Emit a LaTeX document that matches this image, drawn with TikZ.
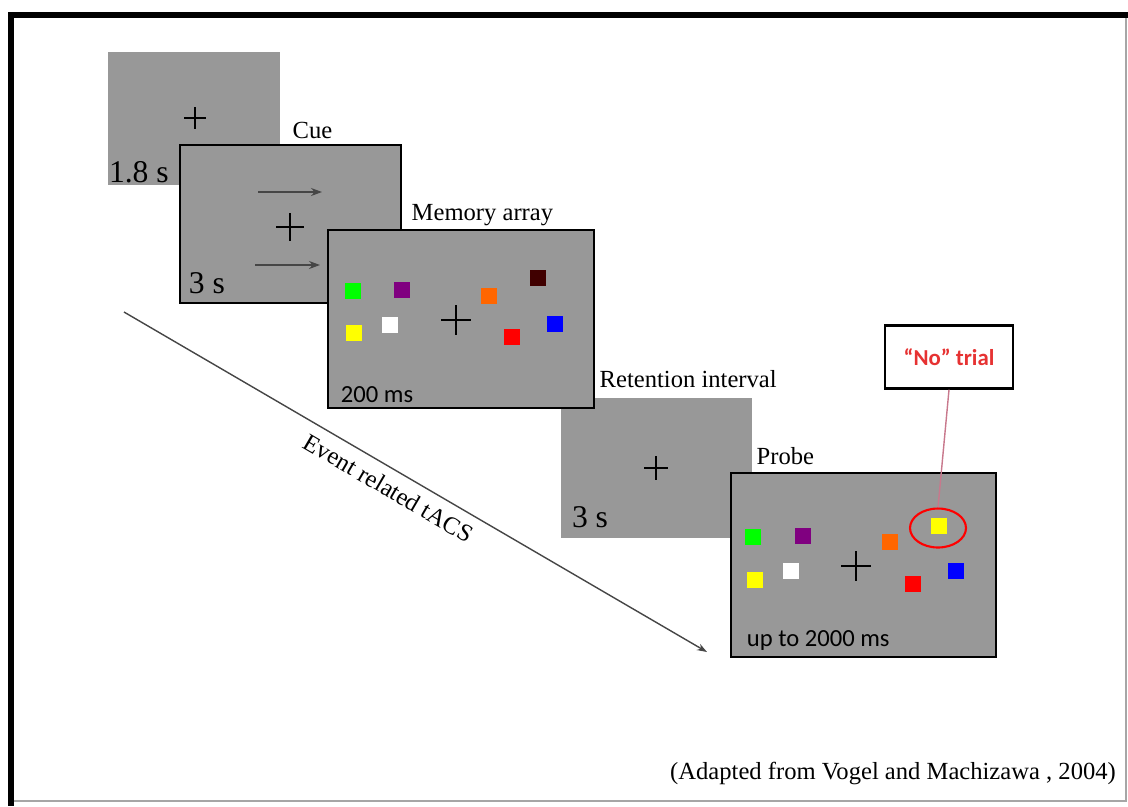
\documentclass[tikz,border=0pt]{standalone}
\usepackage{fontspec}
\setmainfont{Liberation Serif}
\newfontfamily\calibri{Carlito}
\usetikzlibrary{positioning,arrows.meta,calc,shapes.geometric}
\definecolor{ScreenGray}{RGB}{152,152,152}
\definecolor{ItemGreen}{RGB}{0,255,0}
\definecolor{ItemPurple}{RGB}{128,0,128}
\definecolor{ItemYellow}{RGB}{255,255,0}
\definecolor{ItemOrange}{RGB}{255,102,0}
\definecolor{ItemBrown}{RGB}{64,0,0}
\definecolor{ItemRed}{RGB}{255,0,0}
\definecolor{ItemBlue}{RGB}{0,0,255}
\definecolor{NoRed}{RGB}{230,50,50}
\definecolor{PinkLine}{RGB}{200,120,140}
\definecolor{LineGray}{RGB}{70,70,70}
\tikzset{
  screen/.style={fill=ScreenGray,inner sep=0pt},
  framedscreen/.style={screen,draw=black,line width=1.6pt},
  item/.style={fill=#1,inner sep=0pt,minimum size=0.32cm},
  stagelbl/.style={anchor=base west,inner sep=0pt,font=\fontsize{14}{16}\selectfont},
  durlbl/.style={anchor=base west,inner sep=0pt,font=\fontsize{18}{20}\selectfont},
  mslbl/.style={anchor=base west,inner sep=0pt,font=\calibri\fontsize{14}{16}\selectfont},
  cuearrow/.style={-{Stealth[length=2.2mm,width=1.6mm]},semithick,draw=LineGray},
  timeline/.style={-{Stealth[length=2mm,width=1.4mm]},thick,draw=LineGray},
  pics/fixcross/.style={code={\draw[line width=1.5pt] (-#1,0) -- (#1,0) (0,-#1) -- (0,#1);}}
}

\begin{document}
\begin{tikzpicture}[x=0.02cm,y=-0.02cm]
  \useasboundingbox (0,0) rectangle (1128,806);
  % frame
  \draw[gray!70,line width=0.8pt] (11,15) rectangle (1126,801);
  \draw[line width=3.4pt] (8,15) -- (1128,15);
  \draw[line width=3.4pt] (11,12) -- (11,806);

  % screens
  \node[screen,minimum width=3.44cm,minimum height=2.66cm] (fix) at (194,118.5) {};
  \node[framedscreen,minimum width=4.42cm,minimum height=3.16cm] (cue) at (290.5,224) {};
  \node[screen,minimum width=3.82cm,minimum height=2.80cm] (retention) at (656.5,468) {};
  \node[framedscreen,minimum width=5.32cm,minimum height=3.56cm] (memory) at (461,319) {};
  \node[framedscreen,minimum width=5.30cm,minimum height=3.68cm] (probe) at (863.5,565) {};

  % fixation crosses and cue arrows
  \pic at (195,118) {fixcross=11};
  \pic at (290,227) {fixcross=14};
  \pic at (456,320) {fixcross=15};
  \pic at (656,468) {fixcross=12};
  \pic at (856,566) {fixcross=15};
  \draw[cuearrow] (258,192) -- ++(64,0);
  \draw[cuearrow] (255,265) -- ++(65,0);

  % memory array items
  \node[item=ItemGreen] (mgreen) at (353,291) {};
  \node[item=ItemPurple] (mpurple) at (402,290) {};
  \node[item=ItemYellow] (myellow) at (354,333) {};
  \node[item=white] (mwhite) at (390,325) {};
  \node[item=ItemOrange] (morange) at (489,296) {};
  \node[item=ItemBrown] (mbrown) at (538,278) {};
  \node[item=ItemRed] (mred) at (512,337) {};
  \node[item=ItemBlue] (mblue) at (555,324) {};

  % probe items
  \node[item=ItemGreen] (pgreen) at (753,537) {};
  \node[item=ItemPurple] (ppurple) at (803,536) {};
  \node[item=ItemYellow] (pyellow) at (755,580) {};
  \node[item=white] (pwhite) at (791,571) {};
  \node[item=ItemOrange] (porange) at (890,542) {};
  \node[item=ItemYellow] (pchange) at (939,526) {};
  \node[item=ItemRed] (pred) at (913,584) {};
  \node[item=ItemBlue] (pblue) at (956,571) {};
  \node[draw=ItemRed,line width=1.2pt,ellipse,inner sep=0pt,
    minimum width=1.12cm,minimum height=0.78cm] (circ) at (938,528) {};

  % stage labels
  \node[stagelbl] (cuelbl) at ($(fix.east |- cue.north)+(12,-5)$) {Cue};
  \node[stagelbl] (memlbl) at ($(cue.east |- memory.north)+(9,-8)$) {Memory array};
  \node[stagelbl] (retlbl) at ($(memory.east |- retention.north)+(4,-10)$) {Retention interval};
  \node[stagelbl] (probelbl) at ($(retention.east |- probe.north)+(4,-7)$) {Probe};

  % durations
  \node[durlbl] (fixtime) at ($(fix.south west)+(1,-3)$) {1.8 s};
  \node[durlbl] (cuetime) at ($(cue.south west)+(10,-11)$) {3 s};
  \node[mslbl] (memtime) at ($(memory.south west)+(14,-7)$) {200 ms};
  \node[durlbl] (rettime) at ($(retention.south west)+(11,-11)$) {3 s};
  \node[mslbl] (probetime) at ($(probe.south west)+(17,-12)$) {up to 2000 ms};

  % "No" trial callout
  \node[draw,line width=1.3pt,minimum width=2.56cm,minimum height=1.26cm,text=NoRed,
    font=\calibri\bfseries\fontsize{13}{15}\selectfont] (notrial) at (949,357) {“No” trial};
  \draw[PinkLine,thick] (notrial.south) -- (circ.north);

  % tACS time line
  \coordinate (tstart) at (124,312);
  \coordinate (tend) at (707,652);
  \draw[timeline] (tstart) -- node[pos=0.47,below=2pt,sloped,font=\fontsize{14}{16}\selectfont] (tacs) {Event related tACS} (tend);

  \node[anchor=east,font=\fontsize{14}{16}\selectfont] (credit) at (1122,773) {(Adapted from Vogel and Machizawa , 2004)};
\end{tikzpicture}
\end{document}
